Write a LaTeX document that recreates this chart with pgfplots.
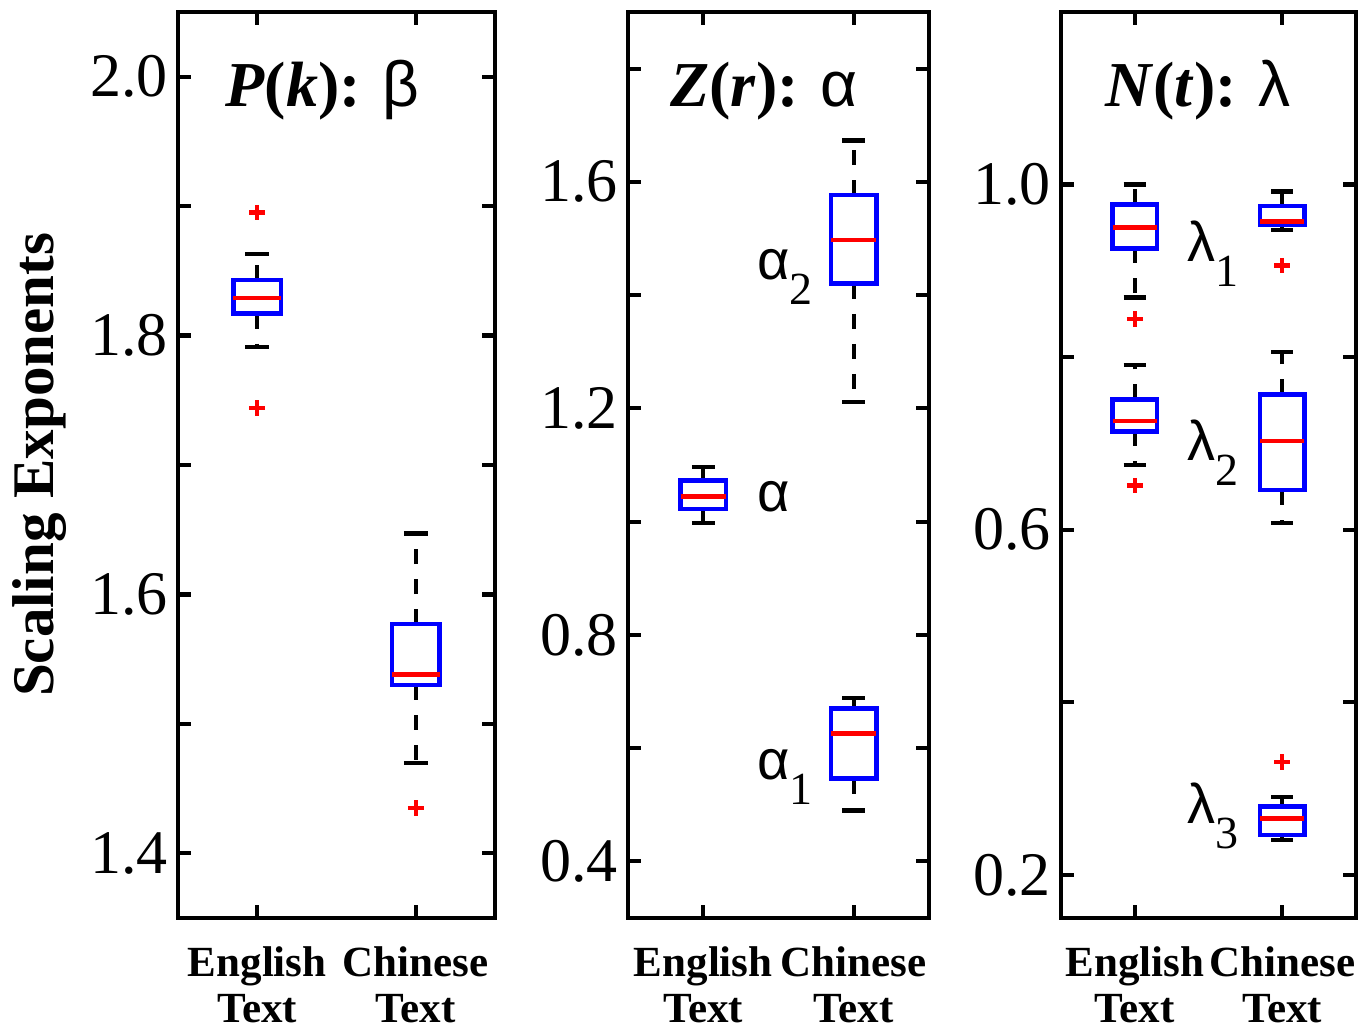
\documentclass[border=0pt]{standalone}
\usepackage{fontspec}
\setmainfont{Liberation Serif}
\newfontfamily\grk{Liberation Sans}
\usepackage{pgfplots}
\pgfplotsset{compat=1.18}
\usepgfplotslibrary{statistics}

\pgfplotsset{
  boxplot/draw/lower whisker/.code={%
    \draw[black, line width=2.1pt, dash pattern=on 7.5pt off 7.5pt]
      (boxplot box cs:\pgfplotsboxplotvalue{lower quartile},0.5) --
      (boxplot box cs:\pgfplotsboxplotvalue{lower whisker},0.5);
    \draw[black, line width=2.1pt, solid]
      (boxplot whisker cs:\pgfplotsboxplotvalue{lower whisker},0) --
      (boxplot whisker cs:\pgfplotsboxplotvalue{lower whisker},1);
  },
  boxplot/draw/upper whisker/.code={%
    \draw[black, line width=2.1pt, dash pattern=on 7.5pt off 7.5pt]
      (boxplot box cs:\pgfplotsboxplotvalue{upper quartile},0.5) --
      (boxplot box cs:\pgfplotsboxplotvalue{upper whisker},0.5);
    \draw[black, line width=2.1pt, solid]
      (boxplot whisker cs:\pgfplotsboxplotvalue{upper whisker},0) --
      (boxplot whisker cs:\pgfplotsboxplotvalue{upper whisker},1);
  },
  panel/.style={
    scale only axis, height=453pt, anchor=south west,
    xmin=0.5, xmax=2.5, xtick={1,2},
    xticklabels={English\\Text, Chinese\\Text},
    axis line style={line width=2.4pt},
    major tick style={line width=2.1pt, black},
    minor tick style={line width=2.1pt, black},
    major tick length=6.5pt, minor tick length=6.5pt,
    /pgf/number format/assume math mode=true,
    yticklabel style={font=\fontsize{31}{31}\selectfont, inner xsep=0pt, xshift=-5pt,
      /pgf/number format/.cd, fixed, fixed zerofill, precision=1},
    xticklabel style={font=\bfseries\fontsize{21.5}{23}\selectfont, align=center,
      inner sep=0pt, yshift=-14pt},
    boxplot/draw direction=y,
    boxplot/box extend=0.30,
    boxplot/whisker extend=0.15,
    boxplot/every box/.style={draw=blue, line width=2.3pt, solid},
    boxplot/every median/.style={draw=red, line width=2.3pt, solid},
  },
  bx/.style={black, mark=+, mark size=3.9pt, mark options={red, line width=2.2pt, solid}},
}

\begin{document}
\begin{tikzpicture}
\useasboundingbox (0,0) rectangle (685pt,516pt);

% Panel 1: P(k)
\begin{axis}[panel, at={(89pt,57pt)}, width=158.5pt,
  ymin=1.35, ymax=2.05, ytick={1.4,1.6,1.8,2.0}, minor ytick={1.5,1.7,1.9}]
\addplot[bx, boxplot prepared={draw position=1, lower whisker=1.791, lower quartile=1.817,
  median=1.829, upper quartile=1.843, upper whisker=1.863}]
  table[row sep=\\, y index=0] {y\\ 1.895\\ 1.744\\};
\addplot[bx, boxplot prepared={draw position=2, lower whisker=1.470, lower quartile=1.530,
  median=1.538, upper quartile=1.577, upper whisker=1.647}]
  table[row sep=\\, y index=0] {y\\ 1.435\\};
\end{axis}

% Panel 2: Z(r)
\begin{axis}[panel, at={(314pt,57pt)}, width=150.5pt,
  ymin=0.3, ymax=1.9, ytick={0.4,0.8,1.2,1.6}, minor ytick={0.6,1.0,1.4,1.8}]
\addplot[bx, boxplot prepared={draw position=1, lower whisker=0.997, lower quartile=1.022,
  median=1.044, upper quartile=1.073, upper whisker=1.096}] coordinates {};
\addplot[bx, boxplot prepared={draw position=2, lower whisker=1.211, lower quartile=1.420,
  median=1.497, upper quartile=1.577, upper whisker=1.673}] coordinates {};
\addplot[bx, boxplot prepared={draw position=2, lower whisker=0.490, lower quartile=0.546,
  median=0.626, upper quartile=0.670, upper whisker=0.689}] coordinates {};
\end{axis}

% Panel 3: N(t)
\begin{axis}[panel, at={(530.5pt,57pt)}, width=147.5pt,
  ymin=0.15, ymax=1.2, ytick={0.2,0.6,1.0}, minor ytick={0.4,0.8}]
\addplot[bx, boxplot prepared={draw position=1, lower whisker=0.869, lower quartile=0.926,
  median=0.950, upper quartile=0.977, upper whisker=1.0}]
  table[row sep=\\, y index=0] {y\\ 0.844\\};
\addplot[bx, boxplot prepared={draw position=2, lower whisker=0.947, lower quartile=0.953,
  median=0.957, upper quartile=0.975, upper whisker=0.992}]
  table[row sep=\\, y index=0] {y\\ 0.906\\};
\addplot[bx, boxplot prepared={draw position=1, lower whisker=0.675, lower quartile=0.714,
  median=0.726, upper quartile=0.751, upper whisker=0.791}]
  table[row sep=\\, y index=0] {y\\ 0.651\\};
\addplot[bx, boxplot prepared={draw position=2, lower whisker=0.608, lower quartile=0.646,
  median=0.703, upper quartile=0.757, upper whisker=0.806}] coordinates {};
\addplot[bx, boxplot prepared={draw position=2, lower whisker=0.240, lower quartile=0.246,
  median=0.265, upper quartile=0.279, upper whisker=0.290}]
  table[row sep=\\, y index=0] {y\\ 0.331\\};
\end{axis}

% y label
\node[rotate=90, font=\bfseries\fontsize{29.5}{29.5}\selectfont] at (19.75pt,283.5pt) {Scaling Exponents};

% titles
\begin{scope}[every node/.style={anchor=base west, inner sep=0pt, font=\fontsize{32}{32}\selectfont}]
\node at (112.5pt,462.5pt) {\bfseries\textit{P}(\textit{k}): \mdseries\grk β};
\node at (335pt,462.5pt) {\bfseries\textit{Z}(\textit{r}): \mdseries\grk α};
\node at (552.5pt,462.5pt) {\bfseries\textit{N}(\textit{t}): \mdseries\grk λ};
\end{scope}

% annotations
\begin{scope}[every node/.style={anchor=base west, inner sep=0pt, font=\fontsize{28}{28}\selectfont\grk}]
\node at (378.5pt,376pt) {α\raisebox{-12.5pt}{\rmfamily\fontsize{23}{23}\selectfont 2}};
\node at (378.5pt,260pt) {α};
\node at (378.5pt,126pt) {α\raisebox{-12.5pt}{\rmfamily\fontsize{23}{23}\selectfont 1}};
\node at (593.5pt,385pt) {λ\raisebox{-12.5pt}{\rmfamily\fontsize{23}{23}\selectfont 1}};
\node at (593.5pt,285.5pt) {λ\raisebox{-12.5pt}{\rmfamily\fontsize{23}{23}\selectfont 2}};
\node at (593.5pt,104pt) {λ\raisebox{-12.5pt}{\rmfamily\fontsize{23}{23}\selectfont 3}};
\end{scope}
\end{tikzpicture}
\end{document}
